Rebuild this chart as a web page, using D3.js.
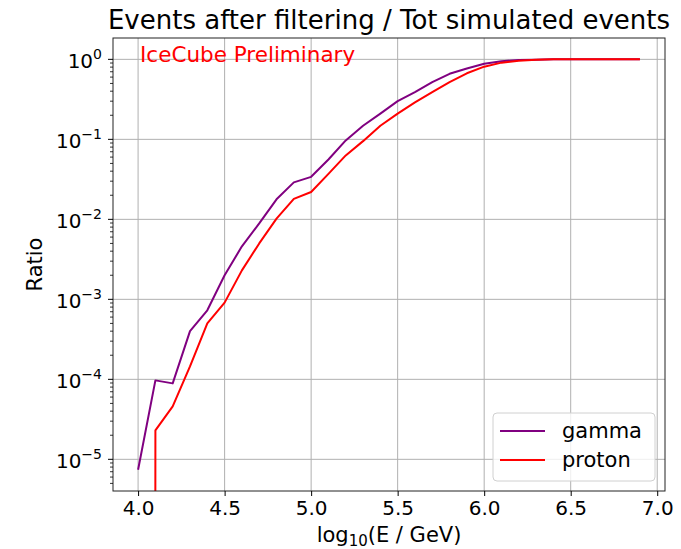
<!DOCTYPE html>
<html><head><meta charset="utf-8">
<script src="https://cdn.jsdelivr.net/npm/d3@7"></script>
<style>body{margin:0;background:#fff;} svg{display:block;font-family:"DejaVu Sans",sans-serif;}</style>
</head><body>
<svg id="chart" width="681" height="549"></svg>
<script>
const energies = [4.0,4.1,4.2,4.3,4.4,4.5,4.6,4.7,4.8,4.9,5.0,5.1,5.2,5.3,5.4,5.5,5.6,5.7,5.8,5.9,6.0,6.1,6.2,6.3,6.4,6.5,6.6,6.7,6.8,6.9];
const gamma = [7.4e-6,9.7e-5,8.9e-5,4.0e-4,7.3e-4,2.0e-3,4.6e-3,8.9e-3,0.0178,0.029,0.034,0.056,0.097,0.148,0.21,0.30,0.39,0.52,0.66,0.77,0.88,0.95,0.98,0.99,1.0,1.0,1.0,1.0,1.0,1.0];
const proton = [0,2.3e-5,4.6e-5,1.45e-4,5.0e-4,9.1e-4,2.3e-3,5.0e-3,0.0102,0.018,0.022,0.037,0.063,0.095,0.148,0.21,0.29,0.39,0.52,0.67,0.81,0.91,0.96,0.99,1.0,1.0,1.0,1.0,1.0,1.0];
const xTicks = [4.0,4.5,5.0,5.5,6.0,6.5,7.0];
const yExps = [-5,-4,-3,-2,-1,0];
const seriesNames = ["gamma","proton"];
const seriesColors = ["purple","red"];

const svg = d3.select("#chart");
const L=113, R=665, T=38, B=491;
const x = d3.scaleLinear().domain([3.855,7.045]).range([L,R]);
const y = d3.scaleLog().domain([Math.pow(10,-5.396),Math.pow(10,0.267)]).range([B,T]);

svg.append("defs").append("clipPath").attr("id","clip").append("rect")
  .attr("x",L).attr("y",T).attr("width",R-L).attr("height",B-T);

// grid
const g = svg.append("g");
xTicks.forEach(t=>{
  g.append("line").attr("x1",x(t)).attr("x2",x(t)).attr("y1",T).attr("y2",B)
   .attr("stroke","#b0b0b0").attr("stroke-width",1);
});
yExps.forEach(e=>{
  g.append("line").attr("x1",L).attr("x2",R).attr("y1",y(Math.pow(10,e))).attr("y2",y(Math.pow(10,e)))
   .attr("stroke","#b0b0b0").attr("stroke-width",1);
});

// lines
const line = d3.line().x((d,i)=>x(energies[i])).y(d=>y(Math.max(d,1e-300)));
[gamma,proton].forEach((s,k)=>{
  svg.append("path").attr("clip-path","url(#clip)").attr("d",line(s))
    .attr("fill","none").attr("stroke",seriesColors[k]).attr("stroke-width",2)
    .attr("stroke-linejoin","round");
});

// spines
svg.append("rect").attr("x",L).attr("y",T).attr("width",R-L).attr("height",B-T)
  .attr("fill","none").attr("stroke","#222").attr("stroke-width",1);

// x ticks
const xAxis = d3.axisBottom(x).tickValues(xTicks).tickFormat(d3.format(".1f")).tickSize(5).tickPadding(5);
const xa = svg.append("g").attr("transform",`translate(0,${B})`).call(xAxis);
xa.select(".domain").remove();
xa.selectAll("text").attr("font-size",20).attr("fill","#000").attr("font-family","DejaVu Sans");

// y ticks
const ya = svg.append("g");
yExps.forEach(e=>{
  const yy=y(Math.pow(10,e));
  ya.append("line").attr("x1",L-5).attr("x2",L).attr("y1",yy).attr("y2",yy).attr("stroke","#000");
  const t = ya.append("text").attr("x",L-11).attr("y",yy+9).attr("text-anchor","end").attr("font-size",20);
  t.append("tspan").text("10");
  t.append("tspan").attr("dy",-9).attr("font-size",14).text(e===0?"0":"\u2212"+(-e));
});
for(let e=-6;e<=0;e++){
  for(let m=2;m<=9;m++){
    const v=m*Math.pow(10,e);
    const yy=y(v);
    if(yy<T||yy>B) continue;
    ya.append("line").attr("x1",L-3).attr("x2",L).attr("y1",yy).attr("y2",yy).attr("stroke","#000").attr("stroke-width",0.8);
  }
}

// title
svg.append("text").attr("x",(L+R)/2).attr("y",29).attr("text-anchor","middle").attr("font-size",26)
  .text("Events after filtering / Tot simulated events");
// annotation
svg.append("text").attr("x",140).attr("y",62).attr("font-size",21.5).attr("fill","red").text("IceCube Preliminary");
// axis labels
const xl = svg.append("text").attr("x",(L+R)/2).attr("y",542).attr("text-anchor","middle").attr("font-size",21);
xl.append("tspan").text("log");
xl.append("tspan").attr("dy",4).attr("font-size",15).text("10");
xl.append("tspan").attr("dy",-4).text("(E / GeV)");
svg.append("text").attr("transform",`translate(42,${(T+B)/2}) rotate(-90)`).attr("text-anchor","middle")
  .attr("font-size",21).text("Ratio");

// legend
const lg = svg.append("g");
lg.append("rect").attr("x",493).attr("y",413).attr("width",162).attr("height",68).attr("rx",4)
  .attr("fill","#fff").attr("fill-opacity",0.8).attr("stroke","#d0d0d0");
seriesNames.forEach((n,k)=>{
  const yy = 431+k*29;
  lg.append("line").attr("x1",500).attr("x2",545).attr("y1",yy).attr("y2",yy).attr("stroke",seriesColors[k]).attr("stroke-width",2);
  lg.append("text").attr("x",562).attr("y",yy+7).attr("font-size",21).text(n);
});
</script>
</body></html>
